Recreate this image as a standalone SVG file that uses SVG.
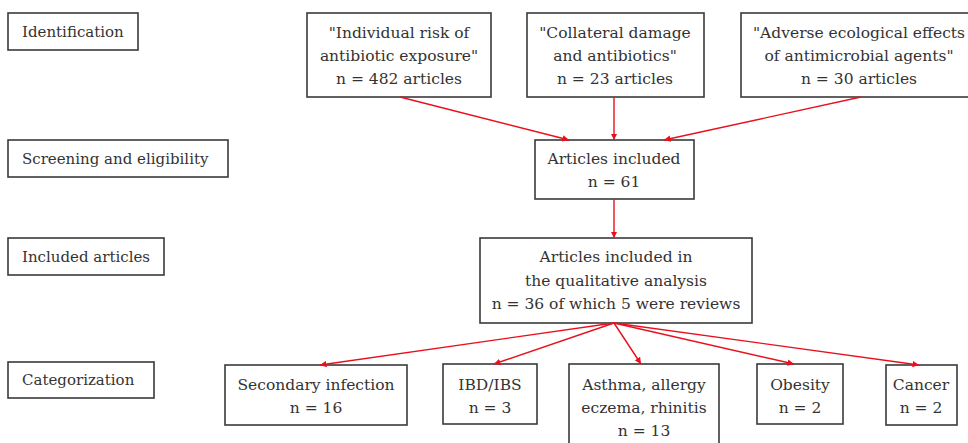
<svg xmlns="http://www.w3.org/2000/svg" width="968" height="443" viewBox="0 0 968 443" font-family="'DejaVu Serif', 'Noto Serif', serif" font-size="15.5">
<style>
.box{fill:#fff;stroke:#3a3a3a;stroke-width:1.6}
text{fill:#333}
.lbl{font-size:15px}
.c{text-anchor:middle}
.con{stroke:#e8101c;stroke-width:1.4;fill:none;marker-end:url(#ah)}
</style>
<defs>
<marker id="ah" viewBox="0 0 10 10" refX="10" refY="5" markerWidth="6.5" markerHeight="6.5" orient="auto" markerUnits="userSpaceOnUse">
<path d="M0,0 L10,5 L0,10 z" fill="#e8101c"/>
</marker>
</defs>
<rect width="968" height="443" fill="#fff"/>
<g id="lbl-identification"><rect class="box" x="8" y="13" width="130" height="37"/><text class="lbl" x="22" y="37">Identification</text></g>
<g id="lbl-screening"><rect class="box" x="8" y="140" width="220" height="37"/><text class="lbl" x="22" y="164">Screening and eligibility</text></g>
<g id="lbl-included"><rect class="box" x="8" y="238" width="156" height="37"/><text class="lbl" x="22" y="262">Included articles</text></g>
<g id="lbl-categorization"><rect class="box" x="8" y="362" width="146" height="36"/><text class="lbl" x="22" y="385">Categorization</text></g>

<g id="src1"><rect class="box" x="307" y="13" width="184" height="84"/><text class="c" x="399" y="38">"Individual risk of</text><text class="c" x="399" y="61">antibiotic exposure"</text><text class="c" x="399" y="84">n = 482 articles</text></g>
<g id="src2"><rect class="box" x="527" y="13" width="177" height="84"/><text class="c" x="615" y="38">"Collateral damage</text><text class="c" x="615" y="61">and antibiotics"</text><text class="c" x="615" y="84">n = 23 articles</text></g>
<g id="src3"><rect class="box" x="741" y="13" width="236" height="84"/><text class="c" x="859" y="38">"Adverse ecological effects</text><text class="c" x="859" y="61">of antimicrobial agents"</text><text class="c" x="859" y="84">n = 30 articles</text></g>

<g id="screen"><rect class="box" x="535" y="140" width="159" height="59"/><text class="c" x="614" y="164">Articles included</text><text class="c" x="614" y="187">n = 61</text></g>
<g id="qual"><rect class="box" x="480" y="238" width="272" height="85"/><text class="c" x="616" y="262">Articles included in</text><text class="c" x="616" y="286">the qualitative analysis</text><text class="c" x="616" y="309">n = 36 of which 5 were reviews</text></g>

<g id="cat-secondary"><rect class="box" x="225" y="365" width="182" height="60"/><text class="c" x="316" y="390">Secondary infection</text><text class="c" x="316" y="413">n = 16</text></g>
<g id="cat-ibd"><rect class="box" x="443" y="364" width="94" height="60"/><text class="c" x="490" y="390">IBD/IBS</text><text class="c" x="490" y="413">n = 3</text></g>
<g id="cat-asthma"><rect class="box" x="569" y="364" width="150" height="84"/><text class="c" x="644" y="390">Asthma, allergy</text><text class="c" x="644" y="413">eczema, rhinitis</text><text class="c" x="644" y="436">n = 13</text></g>
<g id="cat-obesity"><rect class="box" x="757" y="364" width="86" height="60"/><text class="c" x="800" y="390">Obesity</text><text class="c" x="800" y="413">n = 2</text></g>
<g id="cat-cancer"><rect class="box" x="886" y="365" width="71" height="60"/><text class="c" x="921" y="390">Cancer</text><text class="c" x="921" y="413">n = 2</text></g>

<g id="connectors">
<line class="con" x1="400" y1="97" x2="569" y2="140"/>
<line class="con" x1="614" y1="97" x2="614" y2="140"/>
<line class="con" x1="861" y1="97" x2="664" y2="140"/>
<line class="con" x1="614" y1="199" x2="614" y2="238"/>
<line class="con" x1="614" y1="323" x2="320" y2="365"/>
<line class="con" x1="614" y1="323" x2="494" y2="364"/>
<line class="con" x1="614" y1="323" x2="641" y2="364"/>
<line class="con" x1="614" y1="323" x2="794" y2="364"/>
<line class="con" x1="614" y1="323" x2="919" y2="365"/>
</g>
</svg>
